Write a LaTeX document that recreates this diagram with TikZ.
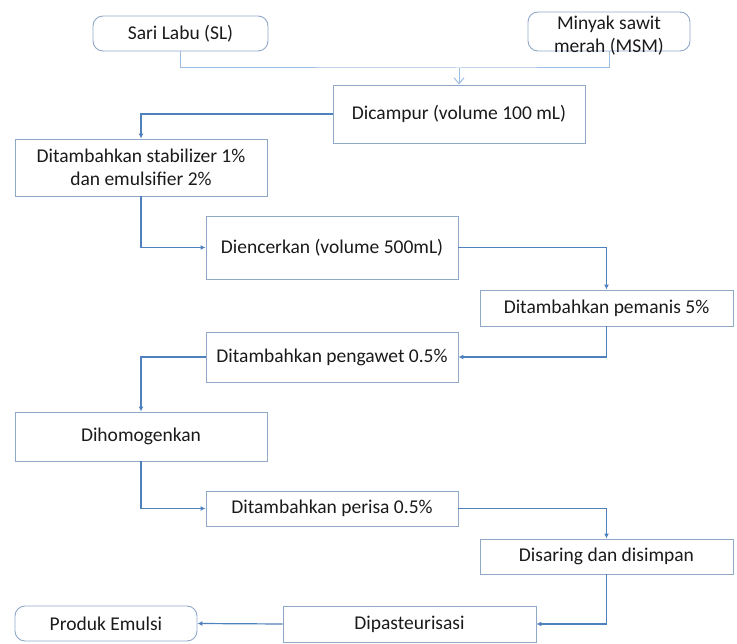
\documentclass[tikz,border=0pt]{standalone}
\usepackage{fontspec}
\setmainfont{Carlito}
\usetikzlibrary{arrows.meta}
\definecolor{boxline}{HTML}{8FA8C8}
\definecolor{conn}{HTML}{4F81BD}
\definecolor{connlight}{HTML}{9DBDE2}
\definecolor{txt}{HTML}{1A1A1A}
\begin{document}
\begin{tikzpicture}[x=1pt,y=-1pt,
  every node/.style={font=\fontsize{19.5}{23}\selectfont, text=txt, inner sep=0pt, align=center},
  procbox/.style={draw=boxline, line width=0.9pt, rectangle},
  termbox/.style={draw=boxline, line width=0.9pt, rectangle, rounded corners=10pt},
  flow/.style={draw=conn, line width=1.2pt, -{Latex[length=5pt,width=5pt]}},
  joinline/.style={draw=connlight, line width=1pt}
]
\useasboundingbox (0,0) rectangle (737,644);

\node[termbox, minimum width=175pt, minimum height=35pt] (sl) at (180.5,33.5) {Sari Labu (SL)};
\node[termbox, minimum width=162pt, minimum height=39pt] (msm) at (609,31.5) {};
\node (msmtext) at (609,36) {Minyak sawit\\merah (MSM)};
\node[procbox, minimum width=252pt, minimum height=58pt] (mix) at (459,114) {Dicampur (volume 100 mL)};
\node[procbox, minimum width=252pt, minimum height=57pt] (stab) at (141,167.5) {Ditambahkan stabilizer 1\%\\dan emulsifier 2\%};
\node[procbox, minimum width=252pt, minimum height=63pt] (dil) at (332,247.5) {Diencerkan (volume 500mL)};
\node[procbox, minimum width=253pt, minimum height=36pt] (sweet) at (606.5,308) {Ditambahkan pemanis 5\%};
\node[procbox, minimum width=252pt, minimum height=50pt] (pres) at (332,357) {Ditambahkan pengawet 0.5\%};
\node[procbox, minimum width=252pt, minimum height=49pt] (homo) at (141,436.5) {Dihomogenkan};
\node[procbox, minimum width=252pt, minimum height=35pt] (flav) at (332,508.5) {Ditambahkan perisa 0.5\%};
\node[procbox, minimum width=253pt, minimum height=35pt] (filt) at (606.5,556.5) {Disaring dan disimpan};
\node[procbox, minimum width=253pt, minimum height=36pt] (past) at (409.5,624) {Dipasteurisasi};
\node[termbox, minimum width=182pt, minimum height=35pt] (prod) at (106,623.5) {Produk Emulsi};

\coordinate (join) at (459,68);
\draw[joinline] (sl.south) |- (join) -| (msm.south);
\draw[joinline, -{Straight Barb[length=6pt,width=10pt]}] (join) -- (mix.north);

\draw[flow] (mix.west) -| (stab.north);
\draw[flow] (stab.south) |- (dil.west);
\draw[flow] (dil.east) -| (sweet.north);
\draw[flow] (sweet.south) |- (pres.east);
\draw[flow] (pres.west) -| (homo.north);
\draw[flow] (homo.south) |- (flav.west);
\draw[flow] (flav.east) -| (filt.north);
\draw[flow] (filt.south) |- (past.east);
\draw[flow] (past.west) -- (prod.east);
\end{tikzpicture}
\end{document}
